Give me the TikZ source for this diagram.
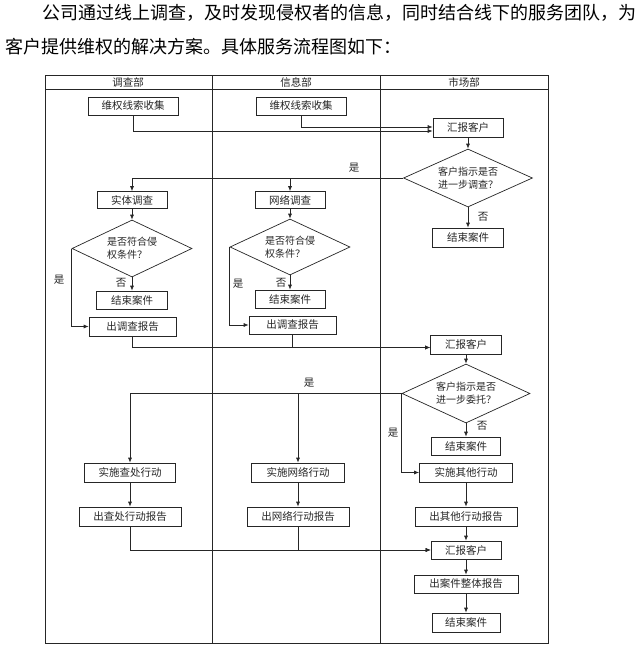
\documentclass[tikz,border=0pt]{standalone}
\usepackage{fontspec}
\setmainfont{Noto Sans CJK SC}
\usetikzlibrary{shapes.geometric,arrows.meta}
\newcommand\mygap{\hspace{0pt plus 1fil}}
\begin{document}
\begin{tikzpicture}[x=1pt,y=-1pt,
  line/.style={draw=black!85, line width=0.7pt},
  box/.style={line, rectangle, inner sep=0pt, text=black!85, font=\fontsize{10.5}{12}\selectfont},
  dia/.style={line, diamond, shape aspect=2.2, inner sep=0pt, align=left, text=black!85, font=\fontsize{10}{13}\selectfont},
  arr/.style={line, -{Latex[length=5pt,width=4pt]}},
  lab/.style={inner sep=0pt, text=black!85, font=\fontsize{10.5}{12}\selectfont},
  ]
\fill[white] (0,0) rectangle (640,646);
\useasboundingbox (0,0) rectangle (640,646);

% intro text
\node[anchor=west, inner sep=0pt, font=\fontsize{18}{20}\selectfont] (t1) at (42,13)
  {\makebox[590pt][s]{公\mygap 司\mygap 通\mygap 过\mygap 线\mygap 上\mygap 调\mygap 查\mygap ，\mygap 及\mygap 时\mygap 发\mygap 现\mygap 侵\mygap 权\mygap 者\mygap 的\mygap 信\mygap 息\mygap ，\mygap 同\mygap 时\mygap 结\mygap 合\mygap 线\mygap 下\mygap 的\mygap 服\mygap 务\mygap 团\mygap 队\mygap ，\mygap 为}};
\node[anchor=west, inner sep=0pt, font=\fontsize{18}{20}\selectfont] (t2) at (5,47)
  {客户提供维权的解决方案。具体服务流程图如下：};

% table
\draw[line, line width=0.9pt] (45,75) rectangle (548,643);
\draw[line, line width=0.9pt] (45,89) -- (548,89);
\draw[line, line width=0.9pt] (212,75) -- (212,643);
\draw[line, line width=0.9pt] (380,75) -- (380,643);
\node[lab] (h1) at (128,82) {调查部};
\node[lab] (h2) at (296,82) {信息部};
\node[lab] (h3) at (464,82) {市场部};

% nodes
\node[box, minimum width=90, minimum height=18] (wq1) at (133,106) {维权线索收集};
\node[box, minimum width=90, minimum height=18] (wq2) at (301,106) {维权线索收集};
\node[box, minimum width=70, minimum height=19] (hb1) at (468,127.5) {汇报客户};
\node[dia, minimum width=129, minimum height=58] (d1) at (468,178) {客户指示是否\\进一步调查？};
\node[box, minimum width=71, minimum height=19] (e1) at (468,237.5) {结束案件};

\node[box, minimum width=70, minimum height=17] (st1) at (132,200) {实体调查};
\node[box, minimum width=70, minimum height=17] (wl) at (290,200) {网络调查};
\node[dia, minimum width=120, minimum height=57] (d2) at (132,248.5) {是否符合侵\\权条件？};
\node[dia, minimum width=120, minimum height=56] (d3) at (290,247) {是否符合侵\\权条件？};
\node[box, minimum width=71, minimum height=18] (e2) at (132,300) {结束案件};
\node[box, minimum width=70, minimum height=18] (e3) at (290,299) {结束案件};
\node[box, minimum width=87, minimum height=19] (bg1) at (132.5,326.5) {出调查报告};
\node[box, minimum width=87, minimum height=18] (bg2) at (292.5,325) {出调查报告};

\node[box, minimum width=71, minimum height=19] (hb2) at (466,344.5) {汇报客户};
\node[dia, minimum width=128, minimum height=59] (d4) at (466,393.5) {客户指示是否\\进一步委托？};
\node[box, minimum width=69, minimum height=18] (e4) at (466,446) {结束案件};

\node[box, minimum width=91, minimum height=19] (ss1) at (130,472.5) {实施查处行动};
\node[box, minimum width=93, minimum height=19] (ss2) at (298,472.5) {实施网络行动};
\node[box, minimum width=93, minimum height=19] (ss3) at (466,472.5) {实施其他行动};
\node[box, minimum width=102, minimum height=19] (rp1) at (130,516.5) {出查处行动报告};
\node[box, minimum width=102, minimum height=19] (rp2) at (298,516.5) {出网络行动报告};
\node[box, minimum width=102, minimum height=19] (rp3) at (466,516.5) {出其他行动报告};
\node[box, minimum width=70, minimum height=18] (hb3) at (466,550) {汇报客户};
\node[box, minimum width=104, minimum height=18] (zt) at (466,584) {出案件整体报告};
\node[box, minimum width=68, minimum height=19] (e5) at (466,622.5) {结束案件};

% connectors, top section
\draw[arr] (wq1.south) |- ([yshift=-3.5pt]hb1.west);
\draw[arr] (wq2.south) |- ([yshift=0.5pt]hb1.west);
\draw[arr] (hb1) -- (d1);
\draw[arr] (d1.west) -| (st1.north);
\draw[arr] (d1.west) -| (wl.north);
\node[lab] (y1) at (354,168) {是};
\draw[arr] (d1) -- (e1);
\node[lab] (n1) at (483,217) {否};

\draw[arr] (st1) -- (d2);
\draw[arr] (wl) -- (d3);
\draw[arr] (d2) -- (e2);
\draw[arr] (d3) -- (e3);
\node[lab] (n2) at (121,283) {否};
\node[lab] (n3) at (281,283) {否};
\draw[arr] (d2.west) |- (bg1.west);
\draw[arr] (d3.west) |- (bg2.west);
\node[lab] (y2) at (59,280) {是};
\node[lab] (y3) at (238,284) {是};
\draw[arr] (bg1.south) |- ([yshift=-3pt]hb2.west);
\draw[arr] (bg2.south) |- ([yshift=-3pt]hb2.west);

% middle section
\draw[arr] (hb2) -- (d4);
\draw[arr] (d4) -- (e4);
\node[lab] (n4) at (482,426) {否};
\draw[arr] (d4.west) -| (ss1.north);
\draw[arr] (d4.west) -| (ss2.north);
\node[lab] (y4) at (309,383) {是};
\draw[arr] (d4.west) |- (ss3.west);
\node[lab] (y5) at (393,433) {是};

% bottom section
\draw[arr] (ss1) -- (rp1);
\draw[arr] (ss2) -- (rp2);
\draw[arr] (ss3) -- (rp3);
\draw[arr] (rp1.south) |- (hb3.west);
\draw[arr] (rp2.south) |- (hb3.west);
\draw[arr] (rp3) -- (hb3);
\draw[arr] (hb3) -- (zt);
\draw[arr] (zt) -- (e5);
\end{tikzpicture}
\end{document}
